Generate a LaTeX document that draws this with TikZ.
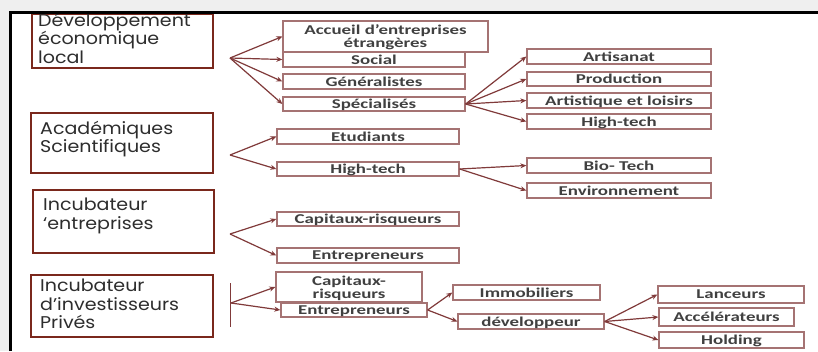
\documentclass[tikz,border=0pt]{standalone}
\usepackage{fontspec}
\setmainfont{Carlito}
\newfontfamily\gothic[FakeStretch=1.12]{Poppins}
\newfontfamily\boxfont[FakeStretch=1.4]{Carlito}
\usetikzlibrary{arrows.meta}
\definecolor{bigred}{RGB}{122,40,28}
\definecolor{smallred}{RGB}{165,115,115}
\definecolor{arrred}{RGB}{128,58,58}
\definecolor{txtgray}{RGB}{64,64,64}
\definecolor{lefttxt}{RGB}{45,45,45}
\definecolor{bggray}{RGB}{239,239,239}
\begin{document}
\begin{tikzpicture}[x=1pt,y=-1pt,
  bigbox/.style={draw=bigred,line width=2pt,inner sep=0pt,anchor=north west},
  bigtxt/.style={anchor=base west,inner sep=0pt,align=left,text=lefttxt,
    font=\gothic\fontsize{17}{18.3}\selectfont},
  small/.style={draw=smallred,line width=1.3pt,fill=white,inner sep=0pt,
    text=txtgray,align=center,text depth=0pt,font=\boxfont\bfseries\fontsize{13.5}{13}\selectfont},
  arr/.style={draw=arrred,line width=1.2pt,-{Stealth[length=6pt,width=5pt]}}]
\useasboundingbox (0,0) rectangle (818,351);
\fill[bggray] (0,0) rectangle (818,351);
\fill[white] (10.5,12.5) rectangle (818,351);
% big boxes
\node[bigbox,minimum width=181pt,minimum height=54.5pt] (b1) at (31,12.5) {};
\node[bigbox,minimum width=182pt,minimum height=60pt] (b2) at (30,112) {};
\node[bigbox,minimum width=181pt,minimum height=63pt] (b3) at (32,189) {};
\node[bigbox,minimum width=182pt,minimum height=62pt] (b4) at (30,274) {};
% big texts (anchored at the baseline of the last line)
\node[bigtxt] (t1) at (38,63) {Développement\\économique\\local};
\node[bigtxt] (t2) at (40,152.7) {Académiques\\Scientifiques};
\node[bigtxt] (t3) at (43,229) {Incubateur\\‘entreprises};
\node[bigtxt] (t4) at (40,328.3) {Incubateur\\d’investisseurs\\Privés};
% panel border
\fill[white] (10.5,0) rectangle (818,11);
\fill[bggray] (0,0) rectangle (818,11);
\draw[black,line width=3pt] (10.5,351) -- (10.5,12.5) -- (818,12.5);
% small boxes
\node[small,minimum width=205pt,minimum height=31pt] (acc) at (385.5,36.5) {Accueil d’entreprises\\étrangères};
\node[small,minimum width=182pt,minimum height=15pt] (soc) at (374,59.5) {Social};
\node[small,minimum width=182pt,minimum height=15pt] (gen) at (374,81.5) {Généralistes};
\node[small,minimum width=182pt,minimum height=14pt] (spe) at (374,104) {Spécialisés};
\node[small,minimum width=184pt,minimum height=15pt] (art) at (619,56.5) {Artisanat};
\node[small,minimum width=184pt,minimum height=14pt] (pro) at (619,79) {Production};
\node[small,minimum width=184pt,minimum height=15pt] (ali) at (619,100.5) {Artistique et loisirs};
\node[small,minimum width=184pt,minimum height=15pt] (hte) at (619,121.5) {High-tech};
\node[small,minimum width=182pt,minimum height=15pt] (etu) at (368,136.5) {Etudiants};
\node[small,minimum width=182pt,minimum height=14pt] (ht2) at (368,169) {High-tech};
\node[small,minimum width=184pt,minimum height=15pt] (bio) at (619,165.5) {Bio- Tech};
\node[small,minimum width=184pt,minimum height=15pt] (env) at (619,190.5) {Environnement};
\node[small,minimum width=182pt,minimum height=14pt] (cap) at (368,219) {Capitaux-risqueurs};
\node[small,minimum width=182pt,minimum height=15pt] (ent) at (368,255.5) {Entrepreneurs};
\node[small,minimum width=146pt,minimum height=30pt] (cap2) at (349,287) {Capitaux-\\risqueurs};
\node[small,minimum width=146pt,minimum height=14pt] (ent2) at (354,310) {Entrepreneurs};
\node[small,minimum width=147pt,minimum height=15pt] (imm) at (526.5,292.5) {Immobiliers};
\node[small,minimum width=146pt,minimum height=15pt] (dev) at (531,321.5) {développeur};
\node[small,minimum width=146pt,minimum height=17pt] (lan) at (731,294.5) {Lanceurs};
\node[small,minimum width=135pt,minimum height=18pt] (acl) at (726.5,317) {Accélérateurs};
\node[small,minimum width=145pt,minimum height=16pt] (hol) at (731.5,340) {Holding};
% fan points
\coordinate (f1) at (230,58);
\coordinate (f2) at (230,155);
\coordinate (f3) at (230,234);
\coordinate (f4) at (231,303);
\coordinate (v1) at (230,283);
\coordinate (v2) at (230,327);
\draw[draw=arrred,line width=1pt] (v1) -- (v2);
% arrows
\foreach \t in {acc,soc,gen,spe} \draw[arr] (f1) -- (\t.west);
\foreach \t in {art,pro,ali,hte} \draw[arr] (spe.east) -- (\t.west);
\foreach \t in {etu,ht2} \draw[arr] (f2) -- (\t.west);
\foreach \t in {bio,env} \draw[arr] (ht2.east) -- (\t.west);
\foreach \t in {cap,ent} \draw[arr] (f3) -- (\t.west);
\foreach \t in {cap2,ent2} \draw[arr] (f4) -- (\t.west);
\foreach \t in {imm,dev} \draw[arr] (ent2.east) -- (\t.west);
\foreach \t in {lan,acl,hol} \draw[arr] (dev.east) -- (\t.west);
\end{tikzpicture}
\end{document}
